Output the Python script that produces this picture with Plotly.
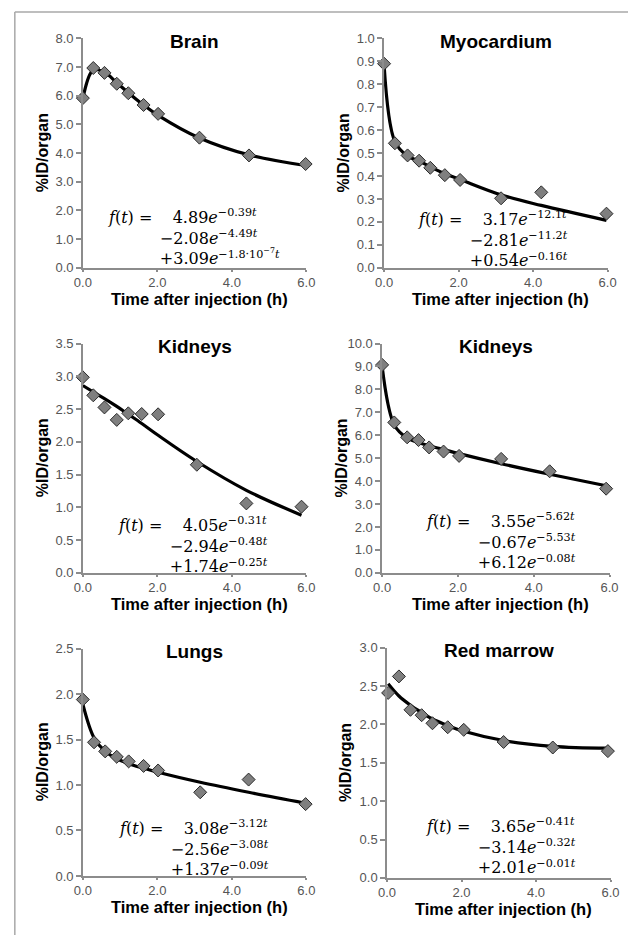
import plotly.graph_objects as go

W, H = 637, 943

# ---------------- data ----------------
panel_titles = ["Brain", "Myocardium", "Kidneys", "Kidneys", "Lungs", "Red marrow"]

brain_t   = [0.0, 0.28, 0.58, 0.91, 1.22, 1.63, 2.02, 3.13, 4.46, 5.98]
brain_obs = [5.92, 6.97, 6.80, 6.42, 6.09, 5.68, 5.37, 4.54, 3.92, 3.62]
brain_fit = [5.90, 6.90, 6.82, 6.46, 6.11, 5.68, 5.32, 4.53, 3.94, 3.57]

myo_t   = [0.0, 0.29, 0.63, 0.94, 1.24, 1.63, 2.04, 3.14, 4.22, 5.97]
myo_obs = [0.89, 0.543, 0.49, 0.467, 0.436, 0.404, 0.383, 0.303, 0.329, 0.236]
myo_fit = [0.885, 0.55, 0.487, 0.466, 0.44, 0.41, 0.385, 0.318, 0.272, 0.207]

kidl_t   = [0.0, 0.28, 0.58, 0.91, 1.22, 1.58, 2.02, 3.06, 4.39, 5.87]
kidl_obs = [2.985, 2.71, 2.525, 2.335, 2.435, 2.425, 2.42, 1.65, 1.06, 1.01]
kidl_fit = [2.86, 2.76, 2.66, 2.54, 2.42, 2.28, 2.10, 1.70, 1.26, 0.88]

kidr_t   = [0.0, 0.32, 0.66, 0.96, 1.24, 1.62, 2.03, 3.14, 4.42, 5.91]
kidr_obs = [9.07, 6.56, 5.91, 5.79, 5.47, 5.29, 5.10, 4.97, 4.43, 3.67]
kidr_fit = [9.00, 6.45, 5.88, 5.68, 5.54, 5.38, 5.20, 4.76, 4.30, 3.80]

lung_t   = [0.0, 0.30, 0.60, 0.91, 1.23, 1.63, 2.02, 3.15, 4.45, 5.98]
lung_obs = [1.94, 1.47, 1.37, 1.31, 1.26, 1.21, 1.16, 0.92, 1.06, 0.79]
lung_fit = [1.89, 1.52, 1.37, 1.29, 1.235, 1.185, 1.14, 1.03, 0.92, 0.80]

marrow_t   = [0.03, 0.32, 0.63, 0.93, 1.22, 1.63, 2.06, 3.13, 4.45, 5.93]
marrow_obs = [2.41, 2.625, 2.19, 2.12, 2.015, 1.963, 1.929, 1.771, 1.699, 1.652]
marrow_fit = [2.53, 2.37, 2.25, 2.155, 2.07, 1.985, 1.91, 1.79, 1.715, 1.69]

y_max  = [8.0, 1.0, 3.5, 10.0, 2.5, 3.0]
y_step = [1.0, 0.1, 0.5, 1.0, 0.5, 0.5]
x_max, x_step = 6.0, 2.0

eq_coef = [["4.89", "−2.08", "+3.09"],
           ["3.17", "−2.81", "+0.54"],
           ["4.05", "−2.94", "+1.74"],
           ["3.55", "−0.67", "+6.12"],
           ["3.08", "−2.56", "+1.37"],
           ["3.65", "−3.14", "+2.01"]]
eq_rate = [["−0.39", "−4.49", "−1.8·10<sup>−7</sup>"],
           ["−12.1", "−11.2", "−0.16"],
           ["−0.31", "−0.48", "−0.25"],
           ["−5.62", "−5.53", "−0.08"],
           ["−3.12", "−3.08", "−0.09"],
           ["−0.41", "−0.32", "−0.01"]]

x_title = "Time after injection (h)"
y_title = "%ID/organ"

series = [(brain_t, brain_obs, brain_fit), (myo_t, myo_obs, myo_fit),
          (kidl_t, kidl_obs, kidl_fit), (kidr_t, kidr_obs, kidr_fit),
          (lung_t, lung_obs, lung_fit), (marrow_t, marrow_obs, marrow_fit)]

# ---------------- layout (pixels) ----------------
boxes = [(76, 306, 32, 265), (386, 616, 32, 265),
         (76, 306, 342, 575), (384, 618, 342, 575),
         (76, 306, 652, 883), (389, 619, 651, 885)]
# equation block: left x, centre y of the middle line
eq_pos = [(100, 236), (419, 238), (110, 549), (427, 545), (111, 857), (427, 855)]

def px(x):
    return x / W

def py(y):
    return 1 - y / H

SANS = "Liberation Sans, Arial, sans-serif"
SERIF = "DejaVu Serif, serif"
AX_COL = "#8c8c8c"
NB = "\u00a0"

fig = go.Figure()
annotations = []
layout_axes = {}

for i, ((t, obs, fit), (x0, x1, y0, y1)) in enumerate(zip(series, boxes)):
    n = "" if i == 0 else str(i + 1)
    xa, ya = "x" + n, "y" + n
    fig.add_trace(go.Scatter(x=t, y=fit, mode="lines", xaxis=xa, yaxis=ya,
                             line=dict(color="black", width=3.2, shape="spline", smoothing=1.0),
                             showlegend=False, hoverinfo="skip", cliponaxis=False))
    fig.add_trace(go.Scatter(x=t, y=obs, mode="markers", xaxis=xa, yaxis=ya,
                             marker=dict(symbol="diamond", size=10, color="#7f7f7f",
                                         line=dict(color="#2b2b2b", width=1)),
                             showlegend=False, cliponaxis=False))
    common = dict(showline=True, linecolor=AX_COL, linewidth=1.5, ticks="outside",
                  tickwidth=1.5, tickcolor=AX_COL, showgrid=False, zeroline=False,
                  tickformat=".1f", tickfont=dict(family=SANS, size=13, color="#555555"))
    layout_axes["xaxis" + n] = dict(domain=[px(x0), px(x1)], anchor=ya, range=[0, x_max],
                                    dtick=x_step, tick0=0, ticklen=2, **common)
    layout_axes["yaxis" + n] = dict(domain=[py(y1), py(y0)], anchor=xa, range=[0, y_max[i]],
                                    dtick=y_step[i], tick0=0, ticklen=5, **common)
    cx = (x0 + x1) / 2
    # panel title
    annotations.append(dict(text="<b>%s</b>" % panel_titles[i], xref="paper", yref="paper",
                            x=px(cx), y=py(y0 + 3), xanchor="center", yanchor="middle",
                            showarrow=False, font=dict(family=SANS, size=19, color="black")))
    # x title
    annotations.append(dict(text="<b>%s</b>" % x_title, xref="paper", yref="paper",
                            x=px(cx + 5), y=py(y1 + 32), xanchor="center", yanchor="middle",
                            showarrow=False, font=dict(family=SANS, size=16.5, color="black")))
    # y title
    annotations.append(dict(text="<b>%s</b>" % y_title, xref="paper", yref="paper",
                            x=px(x0 - 42), y=py((y0 + y1) / 2), xanchor="center", yanchor="middle",
                            textangle=-90, showarrow=False,
                            font=dict(family=SANS, size=16, color="black")))
    # equation (one text block, three lines)
    terms = ["%s<i>e</i><sup>%s<i>t</i></sup>" % (eq_coef[i][k], eq_rate[i][k]) for k in range(3)]
    eq_text = ("<i>f</i>(<i>t</i>) =" + NB * 4 + terms[0] + "<br>" +
               NB * 10 + terms[1] + "<br>" + NB * 10 + terms[2])
    ex, ey = eq_pos[i]
    annotations.append(dict(text=eq_text, xref="paper", yref="paper", align="left",
                            x=px(ex), y=py(ey - 2), xanchor="left", yanchor="middle",
                            showarrow=False, font=dict(family=SERIF, size=16, color="black")))

shapes = [dict(type="line", xref="paper", yref="paper", x0=px(6), x1=px(6), y0=0, y1=py(5),
               line=dict(color="#a8a8a8", width=1.5)),
          dict(type="line", xref="paper", yref="paper", x0=px(6), x1=1, y0=py(5), y1=py(5),
               line=dict(color="#a8a8a8", width=1.5))]

fig.update_layout(width=W, height=H, autosize=False, margin=dict(l=0, r=0, t=0, b=0),
                  paper_bgcolor="white", plot_bgcolor="white",
                  annotations=annotations, shapes=shapes, **layout_axes)

fig.write_html("out.html", config={"displayModeBar": False},
               post_script="document.body.style.margin='0px';")
